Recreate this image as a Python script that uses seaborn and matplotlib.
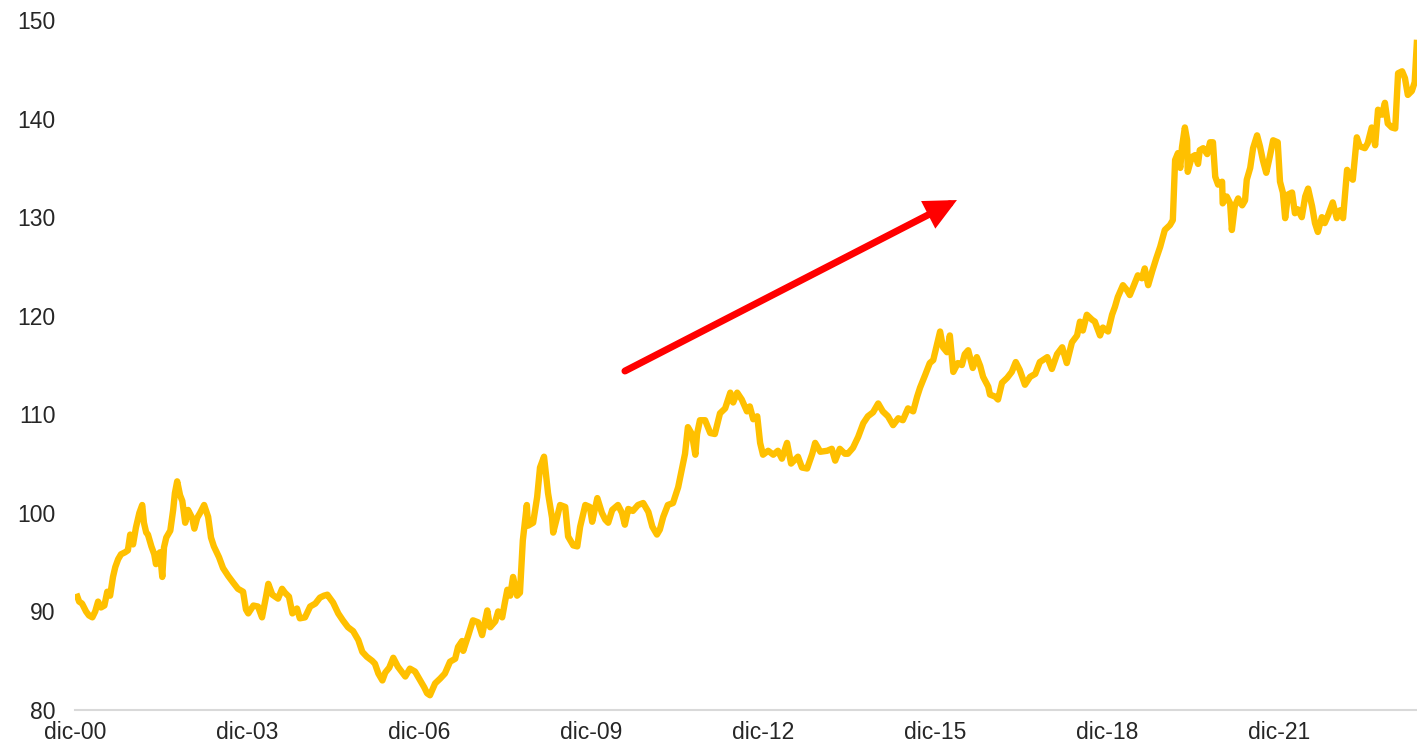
import numpy as np
import pandas as pd
import matplotlib
matplotlib.use("Agg")
import matplotlib.pyplot as plt
import seaborn as sns

# Index level over time (decimal years) and its value
years = [
    2000.94, 2000.99, 2001.04, 2001.11, 2001.16, 2001.22, 2001.27, 2001.32, 2001.37, 2001.43,
    2001.48, 2001.53, 2001.58, 2001.62, 2001.67, 2001.72, 2001.79, 2001.84, 2001.88, 2001.93,
    2001.98, 2002.04, 2002.09, 2002.12, 2002.16, 2002.19, 2002.25, 2002.30, 2002.33, 2002.37,
    2002.40, 2002.44, 2002.47, 2002.51, 2002.58, 2002.63, 2002.66, 2002.70, 2002.75, 2002.79,
    2002.84, 2002.89, 2002.96, 2003.00, 2003.05, 2003.10, 2003.17, 2003.24, 2003.29, 2003.34,
    2003.43, 2003.50, 2003.59, 2003.68, 2003.76, 2003.85, 2003.90, 2003.94, 2004.03, 2004.11,
    2004.18, 2004.25, 2004.29, 2004.36, 2004.46, 2004.53, 2004.58, 2004.65, 2004.71, 2004.79,
    2004.84, 2004.93, 2005.02, 2005.11, 2005.19, 2005.26, 2005.32, 2005.42, 2005.51, 2005.59,
    2005.68, 2005.77, 2005.86, 2005.93, 2006.01, 2006.10, 2006.15, 2006.21, 2006.28, 2006.33,
    2006.40, 2006.47, 2006.55, 2006.68, 2006.76, 2006.85, 2006.94, 2007.01, 2007.06, 2007.11,
    2007.20, 2007.29, 2007.37, 2007.46, 2007.55, 2007.60, 2007.67, 2007.69, 2007.78, 2007.86,
    2007.95, 2008.02, 2008.11, 2008.16, 2008.25, 2008.30, 2008.37, 2008.42, 2008.46, 2008.51,
    2008.56, 2008.63, 2008.68, 2008.73, 2008.80, 2008.82, 2008.91, 2008.98, 2009.03, 2009.10,
    2009.17, 2009.24, 2009.26, 2009.33, 2009.38, 2009.47, 2009.52, 2009.61, 2009.68, 2009.73,
    2009.82, 2009.90, 2009.94, 2010.03, 2010.11, 2010.17, 2010.22, 2010.29, 2010.39, 2010.46,
    2010.51, 2010.57, 2010.65, 2010.74, 2010.83, 2010.92, 2010.99, 2011.07, 2011.12, 2011.18,
    2011.26, 2011.35, 2011.44, 2011.51, 2011.56, 2011.61, 2011.68, 2011.74, 2011.77, 2011.82,
    2011.91, 2012.00, 2012.08, 2012.17, 2012.26, 2012.35, 2012.40, 2012.47, 2012.55, 2012.64,
    2012.69, 2012.75, 2012.82, 2012.87, 2012.92, 2013.01, 2013.10, 2013.18, 2013.25, 2013.34,
    2013.41, 2013.53, 2013.60, 2013.69, 2013.78, 2013.83, 2013.92, 2014.04, 2014.12, 2014.18,
    2014.26, 2014.35, 2014.40, 2014.49, 2014.58, 2014.67, 2014.75, 2014.84, 2014.93, 2015.01,
    2015.10, 2015.19, 2015.28, 2015.36, 2015.45, 2015.54, 2015.61, 2015.66, 2015.75, 2015.83,
    2015.89, 2015.96, 2016.01, 2016.06, 2016.13, 2016.18, 2016.24, 2016.32, 2016.39, 2016.44,
    2016.50, 2016.58, 2016.65, 2016.71, 2016.76, 2016.85, 2016.88, 2016.97, 2017.02, 2017.09,
    2017.18, 2017.26, 2017.33, 2017.40, 2017.49, 2017.58, 2017.67, 2017.75, 2017.88, 2017.96,
    2018.05, 2018.14, 2018.22, 2018.31, 2018.40, 2018.45, 2018.50, 2018.57, 2018.66, 2018.71,
    2018.80, 2018.85, 2018.94, 2019.01, 2019.06, 2019.11, 2019.20, 2019.27, 2019.32, 2019.37,
    2019.46, 2019.53, 2019.58, 2019.64, 2019.71, 2019.78, 2019.85, 2019.93, 2020.02, 2020.07,
    2020.11, 2020.16, 2020.20, 2020.23, 2020.28, 2020.32, 2020.33, 2020.40, 2020.46, 2020.51,
    2020.54, 2020.60, 2020.67, 2020.72, 2020.77, 2020.81, 2020.86, 2020.93, 2020.94, 2021.01,
    2021.07, 2021.10, 2021.15, 2021.21, 2021.28, 2021.33, 2021.36, 2021.42, 2021.47, 2021.54,
    2021.59, 2021.64, 2021.70, 2021.76, 2021.82, 2021.90, 2021.94, 2021.99, 2022.03, 2022.08,
    2022.15, 2022.20, 2022.25, 2022.32, 2022.38, 2022.43, 2022.50, 2022.55, 2022.60, 2022.67,
    2022.72, 2022.78, 2022.86, 2022.93, 2022.99, 2023.04, 2023.11, 2023.16, 2023.21, 2023.28,
    2023.33, 2023.42, 2023.47, 2023.54, 2023.60, 2023.65, 2023.72, 2023.77, 2023.82, 2023.89,
    2023.95, 2024.00, 2024.07, 2024.12, 2024.17, 2024.24, 2024.29, 2024.33,
]

values = [
    91.8, 91.0, 90.8, 90.0, 89.6, 89.4, 90.0, 91.0, 90.4, 90.6,
    92.0, 91.6, 93.5, 94.5, 95.3, 95.8, 96.0, 96.2, 97.8, 96.8,
    98.5, 100.0, 100.8, 99.0, 98.0, 97.8, 96.6, 95.8, 94.8, 95.8,
    96.0, 93.5, 96.5, 97.5, 98.2, 100.3, 102.0, 103.2, 101.8, 101.2,
    99.0, 100.3, 99.5, 98.4, 99.5, 100.0, 100.8, 99.6, 97.5, 96.6,
    95.5, 94.4, 93.6, 92.9, 92.3, 92.0, 90.2, 89.8, 90.6, 90.5,
    89.4, 91.5, 92.8, 91.7, 91.3, 92.3, 91.9, 91.5, 89.8, 90.3,
    89.3, 89.4, 90.5, 90.8, 91.4, 91.6, 91.7, 90.9, 89.8, 89.1,
    88.4, 88.0, 87.1, 85.9, 85.4, 85.0, 84.7, 83.7, 83.0, 83.8,
    84.3, 85.3, 84.4, 83.4, 84.2, 83.9, 83.0, 82.3, 81.7, 81.5,
    82.7, 83.2, 83.7, 84.9, 85.2, 86.4, 87.0, 86.0, 87.6, 89.1,
    88.9, 87.6, 90.1, 88.4, 89.0, 90.0, 89.4, 91.0, 92.2, 91.6,
    93.5, 91.6, 91.9, 97.2, 100.8, 98.7, 99.0, 101.6, 104.6, 105.7,
    102.0, 99.5, 98.0, 99.6, 100.8, 100.6, 97.6, 96.7, 96.6, 98.6,
    100.8, 100.6, 99.1, 101.5, 100.0, 99.3, 99.0, 100.3, 100.8, 100.0,
    98.8, 100.4, 100.2, 100.8, 101.0, 100.1, 98.6, 97.8, 98.3, 99.6,
    100.8, 101.0, 102.6, 104.6, 106.0, 108.7, 108.0, 105.9, 108.0, 109.4,
    109.4, 108.1, 108.0, 110.1, 110.6, 112.2, 111.2, 112.2, 111.5, 110.3,
    110.8, 109.5, 109.8, 107.1, 105.9, 106.3, 105.9, 106.3, 105.5, 107.1,
    105.0, 105.7, 104.6, 104.5, 106.0, 107.1, 106.2, 106.3, 106.5, 105.3,
    106.5, 106.0, 106.0, 106.6, 107.7, 109.1, 109.8, 110.2, 111.1, 110.3,
    109.8, 108.9, 109.6, 109.4, 110.6, 110.3, 111.8, 112.7, 114.0, 115.2,
    115.5, 117.2, 118.4, 116.8, 116.3, 118.0, 114.3, 115.2, 115.0, 116.1,
    116.5, 114.7, 115.8, 114.9, 113.8, 112.8, 112.0, 111.8, 111.5, 113.2,
    113.7, 114.3, 115.3, 114.5, 113.0, 113.8, 114.1, 115.3, 115.8, 114.6,
    116.1, 116.8, 115.2, 117.3, 118.0, 119.4, 118.5, 120.1, 119.6, 119.4,
    118.0, 118.8, 118.4, 120.1, 120.9, 121.9, 123.1, 122.6, 122.1, 122.8,
    124.1, 123.8, 124.8, 123.1, 124.5, 125.8, 127.0, 128.7, 129.2, 129.7,
    135.8, 136.5, 135.0, 137.1, 139.1, 137.8, 134.6, 136.1, 136.3, 135.4,
    136.8, 137.0, 136.4, 137.6, 137.6, 134.1, 133.3, 133.6, 131.4, 132.1,
    131.4, 128.7, 131.1, 131.9, 131.2, 131.7, 133.8, 135.0, 137.0, 138.3,
    137.2, 135.8, 134.5, 136.1, 137.8, 137.6, 133.6, 132.5, 129.9, 132.3,
    132.5, 130.4, 130.8, 130.0, 132.1, 132.9, 131.1, 129.4, 128.5, 130.0,
    129.4, 130.2, 131.5, 129.9, 130.7, 129.9, 134.8, 134.1, 133.8, 138.1,
    137.2, 137.0, 137.5, 139.1, 137.3, 140.9, 140.4, 141.6, 139.5, 139.1,
    139.0, 144.6, 144.8, 144.1, 142.4, 142.8, 143.7, 148.0,
]

# December of every third year carries an axis label
tick_years = [2000, 2003, 2006, 2009, 2012, 2015, 2018, 2021]
tick_labels = ["dic-00", "dic-03", "dic-06", "dic-09", "dic-12", "dic-15", "dic-18", "dic-21"]
y_ticks = [80, 90, 100, 110, 120, 130, 140, 150]

df = pd.DataFrame({"year": years, "value": values})

sns.set_theme(style="white")
plt.rcParams["font.family"] = ["Liberation Sans", "DejaVu Sans"]

fig = plt.figure(figsize=(14.17, 7.42), dpi=100)
ax = fig.add_axes([0.0529, 0.0431, 0.9471, 0.9299])

sns.lineplot(data=df, x="year", y="value", ax=ax, color="#FFC000",
             linewidth=4.6, solid_joinstyle="round", solid_capstyle="butt")

x_start = tick_years[0] + 11 / 12
ax.set_xlim(x_start, years[-1])
ax.set_ylim(y_ticks[0], y_ticks[-1])

ax.set_xticks([y + 11 / 12 for y in tick_years])
ax.set_xticklabels(tick_labels)
ax.set_yticks(y_ticks)
ax.set_yticklabels([str(v) for v in y_ticks])
ax.set_xlabel("")
ax.set_ylabel("")

ax.tick_params(axis="both", length=0, labelsize=16.5, labelcolor="#262626")
ax.tick_params(axis="y", pad=14)
ax.tick_params(axis="x", pad=8)

for side in ("left", "right", "top"):
    ax.spines[side].set_visible(False)
ax.spines["bottom"].set_color("#D9D9D9")
ax.spines["bottom"].set_linewidth(1.5)
ax.grid(False)

# Upward trend arrow
ax.annotate("", xy=(0.6572, 0.7391), xytext=(0.4098, 0.4913),
            xycoords="axes fraction", textcoords="axes fraction",
            arrowprops=dict(arrowstyle="-|>,head_length=0.75,head_width=0.36",
                            mutation_scale=20, lw=5, color="#FF0000",
                            joinstyle="miter", shrinkA=0, shrinkB=0))

fig.savefig("out.png", dpi=100)
